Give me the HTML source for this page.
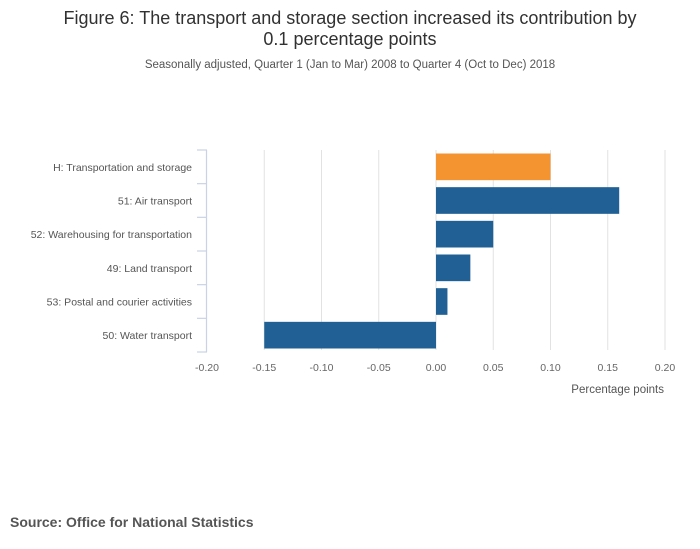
<!DOCTYPE html>
<html><head><meta charset="utf-8"><style>
html,body{margin:0;padding:0;background:#fff;width:700px;height:549px;overflow:hidden;font-family:"Liberation Sans",sans-serif}
</style></head><body>
<svg id="chart" width="700" height="549" xmlns="http://www.w3.org/2000/svg" font-family="Liberation Sans, sans-serif">
<text x="350" y="24" text-anchor="middle" font-size="18" fill="#323132">Figure 6: The transport and storage section increased its contribution by</text>
<text x="350" y="45" text-anchor="middle" font-size="18" fill="#323132">0.1 percentage points</text>
<text x="350" y="68" text-anchor="middle" font-size="11.5" fill="#555">Seasonally adjusted, Quarter 1 (Jan to Mar) 2008 to Quarter 4 (Oct to Dec) 2018</text>
<g id="grid"></g>
<g id="bars"></g>
<g id="yaxis"></g>
<g id="xaxis"></g>
<text x="664" y="393" text-anchor="end" font-size="11.5" fill="#555">Percentage points</text>
<text x="10" y="527" font-size="14" font-weight="bold" fill="#555">Source: Office for National Statistics</text>
</svg>
<script>
const categories = ["H: Transportation and storage","51: Air transport","52: Warehousing for transportation","49: Land transport","53: Postal and courier activities","50: Water transport"];
const values = [0.10,0.16,0.05,0.03,0.01,-0.15];
const highlight = [true,false,false,false,false,false];
const xTicks = [-0.20,-0.15,-0.10,-0.05,0.00,0.05,0.10,0.15,0.20];
const xTickLabels = ["-0.20","-0.15","-0.10","-0.05","0.00","0.05","0.10","0.15","0.20"];

const NS="http://www.w3.org/2000/svg";
const x0=207,x1=665,xmin=-0.2,xmax=0.2,yTop=150,yBot=352;
const xs=v=>x0+(v-xmin)/(xmax-xmin)*(x1-x0);
const band=(yBot-yTop)/categories.length;
const yb=i=>yTop+i*band;
function mk(tag,attrs,parent){const e=document.createElementNS(NS,tag);for(const k in attrs)e.setAttribute(k,attrs[k]);document.getElementById(parent).appendChild(e);return e;}

xTicks.forEach((t,i)=>{
  if(i>0){const g=mk('line',{x1:xs(t),x2:xs(t),y1:yTop,y2:yBot-2,stroke:'#e2e2e2','stroke-width':1},'grid');
  
  }
  const l=mk('text',{x:xs(t),y:371,'text-anchor':'middle','font-size':10.5,fill:'#666'},'xaxis');
  l.textContent=xTickLabels[i];
  
  
});
categories.forEach((c,i)=>{
  const v=values[i];
  const r=mk('rect',{x:Math.min(xs(0),xs(v)),y:yb(i)+3.5,width:Math.abs(xs(v)-xs(0)),height:band-7,fill:highlight[i]?'#f39431':'#206095'},'bars');
  
  
  const l=mk('text',{x:192,y:yb(i)+band/2+4,'text-anchor':'end','font-size':10.5,fill:'#555'},'yaxis');
  l.textContent=c;
  
  
});
const ax=mk('line',{x1:206.5,x2:206.5,y1:yTop,y2:yBot,stroke:'#c9d3e6','stroke-width':1.2},'yaxis');


for(let i=0;i<=categories.length;i++){
  const t=mk('line',{x1:197,x2:207,y1:yb(i),y2:yb(i),stroke:'#c9d3e6','stroke-width':1.2},'yaxis');
  
  
}
</script>
</body></html>
